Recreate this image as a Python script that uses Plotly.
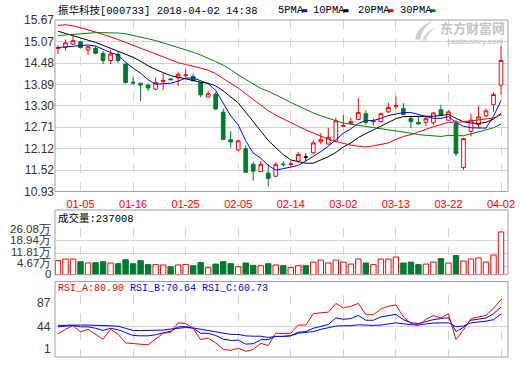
import plotly.graph_objects as go

# ---------------- data ----------------
dates = ["01-02", "01-03", "01-04", "01-05", "01-08", "01-09", "01-10", "01-11", "01-12", "01-15",
         "01-16", "01-17", "01-18", "01-19", "01-22", "01-23", "01-24", "01-25", "01-26", "01-29",
         "01-30", "01-31", "02-01", "02-02", "02-05", "02-06", "02-07", "02-08", "02-09", "02-12",
         "02-13", "02-14", "02-22", "02-23", "02-26", "02-27", "02-28", "03-01", "03-02", "03-05",
         "03-06", "03-07", "03-08", "03-09", "03-12", "03-13", "03-14", "03-15", "03-16", "03-19",
         "03-20", "03-21", "03-22", "03-23", "03-26", "03-27", "03-28", "03-29", "03-30", "04-02"]
tick_labels = ["01-05", "01-16", "01-25", "02-05", "02-14", "03-02", "03-13", "03-22", "04-02"]

open_ = [14.88, 14.91, 15.00, 15.07, 14.84, 14.89, 14.75, 14.55, 14.72, 14.45,
         13.95, 13.92, 13.87, 13.76, 13.97, 14.04, 14.07, 14.13, 14.11, 13.94,
         13.54, 13.62, 13.12, 12.36, 12.08, 12.11, 11.68, 11.48, 11.44, 11.35,
         11.69, 11.68, 11.77, 11.88, 12.00, 12.30, 12.24, 12.32, 12.73, 12.81,
         12.92, 13.08, 12.86, 12.86, 13.13, 13.28, 13.22, 12.95, 12.84, 12.84,
         12.83, 13.19, 12.90, 12.81, 11.59, 12.59, 12.78, 13.02, 13.33, 13.87]
high = [14.98, 15.13, 15.22, 15.09, 14.95, 14.95, 14.81, 14.84, 14.81, 14.47,
        14.09, 13.94, 13.91, 14.08, 14.19, 14.06, 14.23, 14.33, 14.19, 13.95,
        13.71, 13.67, 13.22, 12.60, 12.36, 12.21, 11.75, 11.77, 11.68, 11.74,
        11.77, 11.77, 12.02, 11.98, 12.35, 12.54, 12.68, 12.97, 13.04, 12.97,
        13.51, 13.17, 12.95, 13.11, 13.38, 13.55, 13.37, 13.02, 13.01, 13.00,
        13.13, 13.33, 13.17, 12.90, 12.41, 13.08, 13.29, 13.22, 13.67, 14.95]
low = [14.73, 14.82, 14.99, 14.88, 14.70, 14.72, 14.45, 14.45, 14.48, 13.91,
       13.88, 13.43, 13.70, 13.73, 13.73, 14.00, 13.85, 14.09, 13.98, 13.54,
       13.52, 13.19, 12.35, 12.14, 12.04, 11.44, 11.23, 11.47, 11.07, 11.32,
       11.62, 11.63, 11.71, 11.77, 11.95, 12.23, 12.22, 12.30, 12.72, 12.78,
       12.90, 12.77, 12.74, 12.83, 13.10, 13.20, 13.04, 12.68, 12.77, 12.74,
       12.77, 13.02, 12.88, 11.91, 11.53, 12.45, 12.68, 12.99, 13.13, 13.60]
close = [14.91, 15.04, 15.10, 14.91, 14.93, 14.75, 14.55, 14.73, 14.55, 13.94,
         13.93, 13.87, 13.79, 13.94, 14.00, 14.02, 14.17, 14.15, 13.99, 13.60,
         13.63, 13.21, 12.37, 12.30, 12.33, 11.46, 11.49, 11.68, 11.29, 11.67,
         11.67, 11.69, 11.95, 11.88, 12.27, 12.36, 12.43, 12.88, 12.75, 12.86,
         13.11, 12.84, 12.88, 13.08, 13.25, 13.30, 13.06, 12.86, 12.80, 12.95,
         13.10, 13.04, 13.13, 11.98, 12.39, 12.90, 12.99, 13.16, 13.61, 14.55]

ma5 = [14.91, 14.93, 14.96, 14.97, 14.98, 14.95, 14.85, 14.77, 14.70, 14.50,
       14.34, 14.20, 14.02, 13.89, 13.91, 13.92, 13.98, 14.06, 14.07, 13.99,
       13.91, 13.72, 13.36, 13.02, 12.77, 12.33, 11.99, 11.85, 11.65, 11.52,
       11.56, 11.60, 11.65, 11.77, 11.89, 12.03, 12.18, 12.36, 12.54, 12.66,
       12.81, 12.89, 12.89, 12.95, 13.03, 13.07, 13.11, 13.11, 13.05, 12.99,
       12.95, 12.95, 13.00, 12.84, 12.73, 12.69, 12.68, 12.68, 13.01, 13.44]
ma10 = [15.36, 15.30, 15.24, 15.18, 15.12, 15.05, 14.97, 14.89, 14.82, 14.74,
        14.64, 14.53, 14.40, 14.30, 14.21, 14.13, 14.09, 14.04, 13.98, 13.95,
        13.92, 13.85, 13.71, 13.54, 13.38, 13.12, 12.85, 12.61, 12.34, 12.14,
        11.95, 11.80, 11.75, 11.71, 11.71, 11.80, 11.89, 12.01, 12.16, 12.27,
        12.42, 12.53, 12.63, 12.75, 12.84, 12.94, 13.00, 13.00, 13.00, 13.01,
        13.01, 13.03, 13.06, 12.95, 12.86, 12.82, 12.81, 12.84, 12.93, 13.09]
ma20 = [15.52, 15.54, 15.51, 15.46, 15.40, 15.34, 15.27, 15.21, 15.13, 15.05,
        14.97, 14.89, 14.81, 14.72, 14.64, 14.55, 14.49, 14.44, 14.40, 14.34,
        14.28, 14.19, 14.05, 13.92, 13.79, 13.63, 13.47, 13.32, 13.16, 13.04,
        12.93, 12.82, 12.73, 12.63, 12.54, 12.46, 12.37, 12.31, 12.25, 12.21,
        12.18, 12.16, 12.19, 12.23, 12.27, 12.37, 12.45, 12.50, 12.58, 12.64,
        12.72, 12.78, 12.84, 12.85, 12.85, 12.88, 12.91, 12.92, 12.96, 13.05]
ma30 = [15.24, 15.26, 15.28, 15.30, 15.31, 15.32, 15.32, 15.32, 15.31, 15.29,
        15.25, 15.20, 15.15, 15.10, 15.04, 14.98, 14.92, 14.84, 14.78, 14.70,
        14.62, 14.52, 14.42, 14.30, 14.15, 14.02, 13.90, 13.78, 13.70, 13.61,
        13.50, 13.39, 13.29, 13.18, 13.10, 13.02, 12.95, 12.88, 12.82, 12.79,
        12.76, 12.73, 12.70, 12.67, 12.64, 12.62, 12.58, 12.54, 12.50, 12.48,
        12.46, 12.45, 12.48, 12.47, 12.47, 12.52, 12.57, 12.62, 12.69, 12.79]

volume = [78000, 87000, 87000, 72000, 65000, 67000, 72000, 65000, 61000, 83000,
          61000, 78000, 56000, 56000, 54000, 44000, 54000, 57000, 50000, 67000,
          39000, 59000, 72000, 61000, 44000, 65000, 52000, 50000, 61000, 54000,
          50000, 39000, 50000, 50000, 70000, 81000, 65000, 81000, 70000, 59000,
          87000, 65000, 56000, 87000, 87000, 98000, 65000, 70000, 56000, 59000,
          70000, 89000, 65000, 106000, 76000, 87000, 93000, 70000, 109000, 237008]

rsi_a = [33.3, 39.6, 44.6, 36.0, 39.6, 32.8, 25.6, 39.6, 32.8, 20.6,
         20.2, 18.8, 17.9, 26.1, 34.2, 35.1, 48.6, 47.7, 41.0, 25.2,
         27.4, 20.6, 11.6, 10.2, 13.4, 8.9, 11.6, 20.0, 17.0, 34.2,
         33.5, 34.2, 45.5, 45.5, 61.3, 62.6, 63.5, 75.7, 69.4, 71.7,
         75.7, 59.9, 59.9, 68.0, 71.7, 73.5, 56.8, 47.7, 44.6, 53.6,
         58.6, 55.4, 61.3, 25.2, 38.7, 54.5, 56.8, 59.0, 68.9, 80.90]
rsi_b = [43.0, 44.0, 45.0, 43.0, 43.0, 41.0, 38.0, 41.0, 39.0, 35.0,
         31.0, 30.5, 30.5, 32.0, 34.0, 37.0, 43.0, 43.5, 41.0, 34.0,
         34.0, 31.0, 26.0, 24.0, 24.5, 19.0, 19.5, 25.0, 25.2, 29.7,
         29.7, 30.6, 35.5, 36.4, 41.0, 43.2, 46.4, 55.4, 53.6, 54.5,
         59.0, 52.2, 52.2, 56.8, 59.0, 60.4, 53.1, 48.6, 47.7, 50.9,
         53.1, 54.5, 55.8, 36.4, 42.3, 52.2, 53.6, 55.4, 61.3, 70.64]
rsi_c = [45.0, 45.5, 46.0, 45.5, 45.5, 45.0, 44.0, 44.5, 44.0, 41.0,
         38.0, 37.8, 37.8, 37.8, 38.5, 40.0, 41.5, 42.0, 41.5, 39.5,
         38.5, 36.5, 33.5, 32.5, 32.5, 30.5, 30.0, 30.0, 28.3, 29.7,
         29.7, 30.6, 34.2, 35.1, 36.4, 39.5, 41.9, 44.1, 44.6, 44.6,
         45.9, 45.0, 45.0, 45.5, 46.8, 48.6, 47.3, 45.9, 45.9, 47.3,
         48.2, 48.6, 48.6, 43.2, 44.1, 48.6, 49.5, 50.9, 53.1, 60.73]

price_ticks = [10.93, 11.52, 12.12, 12.71, 13.30, 13.89, 14.48, 15.07, 15.67]
vol_ticks = [46700, 118100, 189400, 260800]
rsi_ticks = [1, 44, 87]

title_text = "振华科技[000733] 2018-04-02 14:38"
volume_title = "成交量:237008"
ma_names = ["5PMA", "10PMA", "20PMA", "30PMA"]

# ---------------- styling / geometry ----------------
RED = "#ff0000"
GREEN = "#007a2e"
BLUE = "#0000ff"
MA_COLORS = [BLUE, "#000000", RED, "#008000"]
GRID = "#d4d4d4"
FRAME = "#a0a0a0"
MONO = "Liberation Mono, Noto Sans CJK SC, monospace"
SANS = "Liberation Sans, Arial, sans-serif"

W, H = 520, 365
L, R, T, B = 55, 12, 20, 1
PW = W - L - R
PH = H - T - B


def px(xp):
    return (xp - L) / PW


def py(yp):
    return (H - B - yp) / PH


n = len(dates)
idx = list(range(n))
flat_idx = [i for i in idx if open_[i] == close[i]]
move_idx = [i for i in idx if open_[i] != close[i]]

fig = go.Figure()

# candles (x = trading-day position, labelled with dates)
fig.add_trace(go.Candlestick(
    x=move_idx,
    open=[open_[i] for i in move_idx], high=[high[i] for i in move_idx],
    low=[low[i] for i in move_idx], close=[close[i] for i in move_idx],
    increasing=dict(line=dict(color=RED, width=1), fillcolor="#ffffff"),
    decreasing=dict(line=dict(color=GREEN, width=1), fillcolor=GREEN),
    whiskerwidth=0, xaxis="x", yaxis="y", showlegend=False, hoverinfo="skip"))
fig.add_trace(go.Candlestick(
    x=flat_idx,
    open=[open_[i] for i in flat_idx], high=[high[i] for i in flat_idx],
    low=[low[i] for i in flat_idx], close=[close[i] for i in flat_idx],
    increasing=dict(line=dict(color="#000000", width=1), fillcolor="#000000"),
    decreasing=dict(line=dict(color="#000000", width=1), fillcolor="#000000"),
    whiskerwidth=0, xaxis="x", yaxis="y", showlegend=False, hoverinfo="skip"))

for ma, col in zip([ma5, ma10, ma20, ma30], MA_COLORS):
    fig.add_trace(go.Scatter(x=idx, y=ma, mode="lines", line=dict(color=col, width=1),
                             xaxis="x", yaxis="y", showlegend=False, hoverinfo="skip"))

# volume
vol_up = []
for i in idx:
    if close[i] > open_[i]:
        vol_up.append(True)
    elif close[i] < open_[i]:
        vol_up.append(False)
    else:
        vol_up.append(i > 0 and close[i] >= close[i - 1])
fig.add_trace(go.Bar(
    x=idx, y=volume, width=0.72,
    marker=dict(color=["#ffffff" if u else GREEN for u in vol_up],
                line=dict(color=[RED if u else GREEN for u in vol_up], width=1)),
    xaxis="x2", yaxis="y2", showlegend=False, hoverinfo="skip"))

# RSI
for series, col in [(rsi_c, BLUE), (rsi_b, BLUE), (rsi_a, RED)]:
    fig.add_trace(go.Scatter(x=idx, y=series, mode="lines", line=dict(color=col, width=1),
                             xaxis="x3", yaxis="y3", showlegend=False, hoverinfo="skip"))

tick_pos = [dates.index(t) for t in tick_labels]
xcommon = dict(type="linear", autorange=False, range=[-0.4, n - 0.07],
               tickmode="array", tickvals=tick_pos, ticktext=tick_labels,
               showgrid=True, gridcolor=GRID, griddash="dash", gridwidth=1,
               zeroline=False, showline=False, ticks="", fixedrange=True)

fig.update_layout(
    width=W, height=H, margin=dict(l=L, r=R, t=T, b=B),
    paper_bgcolor="#ffffff", plot_bgcolor="#ffffff",
    showlegend=False,
    xaxis=dict(xcommon, anchor="y", rangeslider=dict(visible=False),
               ticklabeloverflow="allow", ticklabelstandoff=5,
               tickfont=dict(family=SANS, size=11, color=RED)),
    xaxis2=dict(xcommon, anchor="y2", showticklabels=False),
    xaxis3=dict(xcommon, anchor="y3", showticklabels=False),
    yaxis=dict(domain=[py(195), 1], range=[price_ticks[0], price_ticks[-1]], autorange=False,
               tickvals=price_ticks, ticktext=["%.2f" % v for v in price_ticks],
               showgrid=True, gridcolor=GRID, zeroline=False, ticks="",
               tickfont=dict(family=SANS, size=12, color="#333333")),
    yaxis2=dict(domain=[py(280), py(232)], range=[0, vol_ticks[-1]], autorange=False,
                tickvals=vol_ticks, showticklabels=False,
                showgrid=True, gridcolor=GRID, zeroline=False, ticks=""),
    yaxis3=dict(domain=[0, py(301)], range=[rsi_ticks[0], rsi_ticks[-1]], autorange=False,
                tickvals=rsi_ticks, showticklabels=False,
                showgrid=True, gridcolor=GRID, zeroline=False, ticks=""),
)

shapes = []
for y0, y1 in [(195, 20), (280, 214), (364, 287)]:
    shapes.append(dict(type="rect", xref="paper", yref="paper", x0=0, x1=1,
                       y0=py(y0), y1=py(y1), line=dict(color=FRAME, width=1),
                       fillcolor="rgba(0,0,0,0)", layer="above"))
annotations = []


def ann(text, xp, yp, size, color, family=MONO, xanchor="left"):
    annotations.append(dict(text=text, x=px(xp), y=py(yp), xref="paper", yref="paper",
                            xanchor=xanchor, yanchor="middle", showarrow=False,
                            font=dict(family=family, size=size, color=color)))


# title and MA legend
ann(title_text, 56, 10, 10.5, "#000000")
leg_x = [276, 311, 356, 398]
for name, col, lx in zip(ma_names, MA_COLORS, leg_x):
    ann(name, lx, 10, 10.5, "#000000")
    bx = lx + 6.3 * len(name) + 1
    shapes.append(dict(type="rect", xref="paper", yref="paper",
                       x0=px(bx), x1=px(bx + 5), y0=py(12), y1=py(9),
                       fillcolor=col, line=dict(width=0)))


# watermark (logo swoosh + text)
def path_px(points):
    s = "M %f,%f " % (px(points[0][0]), py(points[0][1]))
    for a, b, c, d in points[1:]:
        s += "Q %f,%f %f,%f " % (px(a), py(b), px(c), py(d))
    return s + "Z"


shapes.append(dict(type="path", xref="paper", yref="paper",
                   path=path_px([(415, 40), (417, 26, 433, 21), (423, 27, 420, 40)]),
                   fillcolor="#cfcfcf", line=dict(width=0)))
shapes.append(dict(type="path", xref="paper", yref="paper",
                   path=path_px([(422, 41), (425, 31, 436, 28), (428, 33, 426, 41)]),
                   fillcolor="#d8d8d8", line=dict(width=0)))
ann("<b>东方财富网</b>", 472, 28, 13, "#c4c4c4", family="Noto Sans CJK SC", xanchor="center")
ann("<b>eastmoney.com</b>", 475, 41.5, 7.5, "#c8c8c8", family=SANS, xanchor="center")

# panel titles
ann(volume_title, 56, 223, 10.5, "#000000")
ann("RSI_A:%.2f" % rsi_a[-1], 56, 294, 10, RED)
ann("RSI_B:%.2f" % rsi_b[-1], 128, 294, 10, BLUE)
ann("RSI_C:%.2f" % rsi_c[-1], 200, 294, 10, BLUE)

# volume axis labels
for lab, yp in zip(["26.08万", "18.94万", "11.81万", "4.67万", "0"], [233, 245, 257, 268.5, 279.5]):
    ann(lab, 53, yp, 11.5, "#333333", family=SANS, xanchor="right")

# RSI axis labels
for lab, yp in zip(["87", "44", "1"], [309, 333, 356]):
    ann(lab, 53, yp, 12, "#333333", family=SANS, xanchor="right")

fig.update_layout(shapes=shapes, annotations=annotations)
fig.write_html("out.html", config={"displayModeBar": False},
               post_script="document.body.style.margin='0';document.body.style.padding='0';")
